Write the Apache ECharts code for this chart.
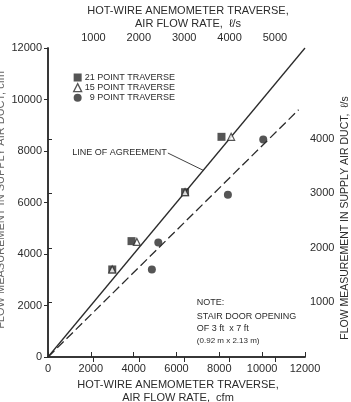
<!DOCTYPE html>
<html>
<head>
<meta charset="utf-8">
<script src="https://cdn.jsdelivr.net/npm/echarts@6/dist/echarts.min.js"></script>
<style>
html,body{margin:0;padding:0;background:#fff;}
#c{width:351px;height:402px;}
</style>
</head>
<body>
<div id="c"></div>
<script>
// ---- data ----
const seriesNames = ['21 POINT TRAVERSE', '15 POINT TRAVERSE', '9 POINT TRAVERSE'];
const traverse21 = [[3000, 3400], [3900, 4500], [6400, 6400], [8100, 8550]];
const traverse15 = [[3000, 3400], [4150, 4470], [6400, 6400], [8550, 8550]];
const traverse9  = [[4850, 3400], [5150, 4450], [8400, 6300], [10050, 8450]];
const agreementLine = [[0, 0], [12000, 12000]];
const fittedLine = [[0, 0], [11700, 9600]];
const cfmTicks = [0, 2000, 4000, 6000, 8000, 10000, 12000];
const lsTopTicks = [1000, 2000, 3000, 4000, 5000];
const lsRightTicks = [1000, 2000, 3000, 4000];
const CFM_PER_LS = 2.11888;
const cfmMax = 12000;

const ink = '#2b2b2b';
const font = 'Liberation Sans, Arial, sans-serif';
const narrow = 'Liberation Sans Narrow, Liberation Sans, Arial, sans-serif';
const plain = function (v) { return String(Math.round(v)); };

const chart = echarts.init(document.getElementById('c'), null, {renderer: 'canvas'});

const lsMax = cfmMax / CFM_PER_LS;

const option = {
  animation: false,
  backgroundColor: '#fff',
  grid: {left: 48, right: 46, top: 48, bottom: 45, containLabel: false, outerBoundsMode: 'none'},
  legend: {
    orient: 'vertical', left: 68, top: 68, itemGap: 1, itemWidth: 8, itemHeight: 8,
    textStyle: {fontFamily: narrow, fontSize: 9, color: ink, padding: [0, 0, 0, -2]},
    data: [
      {name: seriesNames[0], icon: 'rect'},
      {name: seriesNames[1], icon: 'triangle', itemStyle: {color: '#fff', borderColor: ink, borderWidth: 1.3}},
      {name: seriesNames[2], icon: 'circle'}
    ],
    formatter: function (n) { return n === seriesNames[2] ? '  ' + n : n; }
  },
  xAxis: [
    {
      type: 'value', min: 0, max: cfmMax, interval: 2000, position: 'bottom',
      axisLine: {lineStyle: {color: ink, width: 1.5}},
      axisTick: {inside: true, length: 5, lineStyle: {color: ink}},
      axisLabel: {fontFamily: font, fontSize: 11, color: ink, margin: 6, formatter: plain,
        customValues: cfmTicks},
      splitLine: {show: false}
    },
    {
      type: 'value', min: 0, max: lsMax, position: 'top',
      axisLine: {lineStyle: {color: ink, width: 1.5}},
      axisTick: {inside: true, length: 5, lineStyle: {color: ink}, customValues: lsTopTicks},
      axisLabel: {fontFamily: font, fontSize: 11, color: ink, margin: 5, formatter: plain, customValues: lsTopTicks},
      splitLine: {show: false}
    }
  ],
  yAxis: [
    {
      type: 'value', min: 0, max: cfmMax, interval: 2000, position: 'left',
      axisLine: {lineStyle: {color: ink, width: 1.5}},
      axisTick: {inside: false, length: 4, lineStyle: {color: ink}},
      axisLabel: {fontFamily: font, fontSize: 11, color: ink, margin: 6, formatter: plain},
      splitLine: {show: false}
    },
    {
      type: 'value', min: 0, max: lsMax, position: 'right',
      axisLine: {lineStyle: {color: ink, width: 1.5}},
      axisTick: {inside: false, length: 4, lineStyle: {color: ink}, customValues: lsRightTicks},
      axisLabel: {fontFamily: font, fontSize: 11, color: ink, margin: 5, formatter: plain, customValues: lsRightTicks},
      splitLine: {show: false}
    }
  ],
  series: [
    {
      name: 'agreement', type: 'line', xAxisIndex: 0, yAxisIndex: 0, data: agreementLine,
      symbol: 'none', lineStyle: {color: ink, width: 1.3}, silent: true, z: 2
    },
    {
      name: 'fit', type: 'line', xAxisIndex: 0, yAxisIndex: 0, data: fittedLine,
      symbol: 'none', lineStyle: {color: ink, width: 1.3, type: [9, 4]}, silent: true, z: 2
    },
    {
      name: seriesNames[0], type: 'scatter', data: traverse21, symbol: 'rect', symbolSize: 8,
      itemStyle: {color: ink}, z: 3
    },
    {
      name: seriesNames[1], type: 'scatter', data: traverse15, symbol: 'triangle', symbolSize: 7,
      itemStyle: {color: '#fff', borderColor: ink, borderWidth: 1.2}, z: 4
    },
    {
      name: seriesNames[2], type: 'scatter', data: traverse9, symbol: 'circle', symbolSize: 8,
      itemStyle: {color: ink}, z: 3
    }
  ]
};
chart.setOption(option);

// annotations positioned in data space
const labelEnd = chart.convertToPixel({xAxisIndex: 0, yAxisIndex: 0}, [5550, 7960]);
const leaderEnd = chart.convertToPixel({xAxisIndex: 0, yAxisIndex: 0}, [7250, 7250]);
const noteAt = chart.convertToPixel({xAxisIndex: 0, yAxisIndex: 0}, [6950, 2100]);

chart.setOption({
  graphic: [
    {type: 'text', x: 188, y: 11, style: {text: 'HOT-WIRE ANEMOMETER TRAVERSE,', font: '11px ' + font, fill: ink, align: 'center', verticalAlign: 'middle'}},
    {type: 'text', x: 188, y: 24, style: {text: 'AIR FLOW RATE,  ℓ/s', font: '11px ' + font, fill: ink, align: 'center', verticalAlign: 'middle'}},
    {type: 'text', x: 178, y: 385, style: {text: 'HOT-WIRE ANEMOMETER TRAVERSE,', font: '11px ' + font, fill: ink, align: 'center', verticalAlign: 'middle'}},
    {type: 'text', x: 178, y: 398, style: {text: 'AIR FLOW RATE,  cfm', font: '11px ' + font, fill: ink, align: 'center', verticalAlign: 'middle'}},
    {type: 'text', x: 345, y: 218, rotation: Math.PI / 2, style: {text: 'FLOW MEASUREMENT IN SUPPLY AIR DUCT,  ℓ/s', font: '10.5px ' + font, fill: ink, align: 'center', verticalAlign: 'middle'}},
    {type: 'text', x: 1, y: 200, rotation: Math.PI / 2, style: {text: 'FLOW MEASUREMENT IN SUPPLY AIR DUCT, cfm', font: '11px ' + font, fill: '#666', align: 'center', verticalAlign: 'middle'}},
    {type: 'text', x: labelEnd[0], y: labelEnd[1], style: {text: 'LINE OF AGREEMENT', font: '9px ' + narrow, fill: ink, align: 'right', verticalAlign: 'middle'}},
    {type: 'line', shape: {x1: labelEnd[0] + 1, y1: labelEnd[1] + 1, x2: leaderEnd[0], y2: leaderEnd[1]}, style: {stroke: ink, lineWidth: 0.9}},
    {type: 'text', x: noteAt[0], y: noteAt[1], style: {text: 'NOTE:', font: '9px ' + narrow, fill: ink, align: 'left', verticalAlign: 'middle'}},
    {type: 'text', x: noteAt[0], y: noteAt[1] + 14, style: {text: 'STAIR DOOR OPENING', font: '9px ' + narrow, fill: ink, align: 'left', verticalAlign: 'middle'}},
    {type: 'text', x: noteAt[0], y: noteAt[1] + 26, style: {text: 'OF 3 ft  x 7 ft', font: '9px ' + narrow, fill: ink, align: 'left', verticalAlign: 'middle'}},
    {type: 'text', x: noteAt[0], y: noteAt[1] + 38, style: {text: '(0.92 m x 2.13 m)', font: '8px ' + narrow, fill: ink, align: 'left', verticalAlign: 'middle'}}
  ]
});
</script>
</body>
</html>
